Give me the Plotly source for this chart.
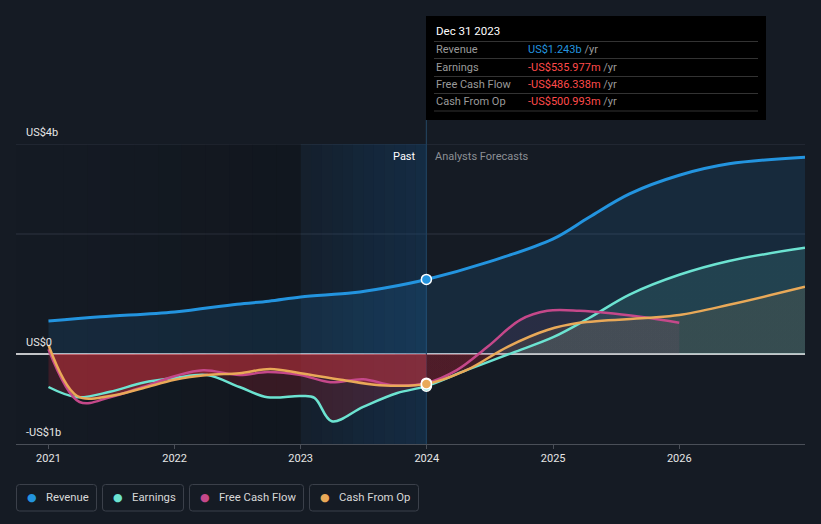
import plotly.graph_objects as go
import datetime as _dt

# ---------------- data (US$ billions) ----------------
rev_past_x = ["2021-01-01", "2021-06-01", "2022-01-01", "2022-07-01", "2022-10-01",
              "2023-01-01", "2023-06-01", "2023-09-01", "2023-12-31"]
rev_past_y = [0.55, 0.62, 0.70, 0.83, 0.88, 0.95, 1.02, 1.10, 1.243]
rev_fc_x = ["2023-12-31", "2024-07-01", "2025-01-01", "2025-04-15",
            "2025-08-10", "2026-01-01", "2026-05-25", "2026-12-31"]
rev_fc_y = [1.243, 1.54, 1.92, 2.28, 2.67, 2.98, 3.17, 3.28]

earn_past_x = ["2021-01-01", "2021-03-25", "2021-06-28", "2021-10-01", "2022-01-01",
               "2022-04-05", "2022-07-08", "2022-09-27", "2023-01-01", "2023-02-10",
               "2023-04-01", "2023-07-01", "2023-10-08", "2023-12-31"]
earn_past_y = [-0.55, -0.72, -0.63, -0.48, -0.40, -0.35, -0.55, -0.72, -0.70, -0.73,
               -1.12, -0.88, -0.65, -0.536]
earn_fc_x = ["2023-12-31", "2024-04-25", "2024-09-05", "2025-01-01", "2025-04-15",
             "2025-08-10", "2026-01-01", "2026-05-25", "2026-12-31"]
earn_fc_y = [-0.536, -0.27, 0.02, 0.28, 0.60, 0.99, 1.32, 1.55, 1.77]

fcf_past_x = ["2021-01-01", "2021-04-01", "2021-06-28", "2021-10-01", "2022-01-01",
              "2022-03-25", "2022-07-08", "2022-09-27", "2023-01-01", "2023-03-28",
              "2023-07-01", "2023-09-25", "2023-12-31"]
fcf_past_y = [0.08, -0.80, -0.72, -0.55, -0.37, -0.27, -0.35, -0.30, -0.35, -0.47,
              -0.42, -0.52, -0.486]
fcf_fc_x = ["2023-12-31", "2024-03-28", "2024-06-25", "2024-09-28", "2024-12-15",
            "2025-03-18", "2025-09-10", "2026-01-01"]
fcf_fc_y = [-0.486, -0.27, 0.12, 0.57, 0.72, 0.72, 0.62, 0.52]

cfo_past_x = ["2021-01-01", "2021-03-25", "2021-06-28", "2021-10-01", "2022-01-01",
              "2022-04-05", "2022-07-08", "2022-10-05", "2023-01-01", "2023-04-28",
              "2023-08-18", "2023-12-31"]
cfo_past_y = [0.15, -0.70, -0.70, -0.57, -0.43, -0.35, -0.32, -0.25, -0.32, -0.43,
              -0.52, -0.501]
cfo_fc_x = ["2023-12-31", "2024-04-25", "2024-08-22", "2024-12-15", "2025-03-18",
            "2025-09-25", "2026-01-01", "2026-05-25", "2026-12-31"]
cfo_fc_y = [-0.501, -0.27, 0.12, 0.40, 0.52, 0.60, 0.65, 0.82, 1.12]

year_ticks = ["2021-01-01", "2022-01-01", "2023-01-01", "2024-01-01", "2025-01-01", "2026-01-01"]
y_label_vals = [3.5, 0.0, -1.5]
y_label_text = ["US$4b", "US$0", "-US$1b"]
grid_vals = [3.5, 2.0]

series_names = ["Revenue", "Earnings", "Free Cash Flow", "Cash From Op"]
series_colors = ["#2394df", "#6ce3d1", "#c5488a", "#e9a958"]
tip_values = ["US$1.243b", "-US$535.977m", "-US$486.338m", "-US$500.993m"]
tip_colors = ["#2394df", "#ff4b4b", "#ff4b4b", "#ff4b4b"]

X0, X1 = "2020-09-29", "2026-12-31"
Y0, Y1 = -1.5, 3.5
BG = "#151b24"
FONT = "Roboto"

W, H = 821, 524
ML, MR, MT, MB = 16, 16, 144, 80


def xp(px):
    return (px - ML) / (W - ML - MR)


def yp(py):
    return (H - MB - py) / (H - MT - MB)


fig = go.Figure()

# past negatives red fill
fig.add_trace(go.Scatter(x=earn_past_x, y=earn_past_y, mode="lines", line=dict(width=0, shape="spline"),
                         fill="tozeroy", fillcolor="rgba(170,35,50,0.25)",
                         hoverinfo="skip", showlegend=False))
fig.add_trace(go.Scatter(x=cfo_past_x, y=cfo_past_y, mode="lines", line=dict(width=0, shape="spline"),
                         fill="tozeroy", fillcolor="rgba(200,50,60,0.50)",
                         hoverinfo="skip", showlegend=False))

# revenue fill
fig.add_trace(go.Scatter(x=rev_past_x + rev_fc_x[1:], y=rev_past_y + rev_fc_y[1:], mode="lines",
                         line=dict(width=0, shape="spline", smoothing=1.0), fill="tozeroy",
                         fillcolor="rgba(35,148,223,0.13)", hoverinfo="skip", showlegend=False))


def pos_neg_scale(color_rgb, lo, hi, a_pos):
    z = (0 - lo) / (hi - lo)
    return dict(type="vertical", start=lo, stop=hi,
                colorscale=[[0, "rgba(130,30,45,0.22)"], [max(z - 0.001, 0), "rgba(130,30,45,0.22)"],
                            [z, f"rgba({color_rgb},{a_pos})"], [1, f"rgba({color_rgb},{a_pos})"]])


fig.add_trace(go.Scatter(x=earn_fc_x, y=earn_fc_y, mode="lines", line=dict(width=0, shape="spline", smoothing=1.0),
                         fill="tozeroy", fillgradient=pos_neg_scale("108,227,209", -0.6, 1.8, 0.13),
                         hoverinfo="skip", showlegend=False))
fig.add_trace(go.Scatter(x=fcf_fc_x, y=fcf_fc_y, mode="lines", line=dict(width=0, shape="spline", smoothing=1.0),
                         fill="tozeroy", fillgradient=pos_neg_scale("197,72,138", -0.6, 1.8, 0.10),
                         hoverinfo="skip", showlegend=False))
fig.add_trace(go.Scatter(x=cfo_fc_x, y=cfo_fc_y, mode="lines", line=dict(width=0, shape="spline", smoothing=1.0),
                         fill="tozeroy", fillgradient=pos_neg_scale("233,169,88", -0.6, 1.8, 0.10),
                         hoverinfo="skip", showlegend=False))

# lines
lines = [
    (earn_past_x + earn_fc_x[1:], earn_past_y + earn_fc_y[1:], series_colors[1], 2.5),
    (fcf_past_x + fcf_fc_x[1:], fcf_past_y + fcf_fc_y[1:], series_colors[2], 2.5),
    (cfo_past_x + cfo_fc_x[1:], cfo_past_y + cfo_fc_y[1:], series_colors[3], 2.5),
    (rev_past_x + rev_fc_x[1:], rev_past_y + rev_fc_y[1:], series_colors[0], 3),
]
for lx, ly, c, w in lines:
    fig.add_trace(go.Scatter(x=lx, y=ly, mode="lines", line=dict(color=c, width=w, shape="spline", smoothing=1.0),
                             hoverinfo="skip", showlegend=False))

# markers at the hovered date
for vals, c in [(earn_past_y, series_colors[1]), (fcf_past_y, series_colors[2]),
                (cfo_past_y, series_colors[3]), (rev_past_y, series_colors[0])]:
    fig.add_trace(go.Scatter(x=["2023-12-31"], y=[vals[-1]], mode="markers",
                             marker=dict(color=c, size=10, line=dict(color="#ffffff", width=1.5)),
                             hoverinfo="skip", showlegend=False))

shapes = []
# dark gradient on the left (before last year)
n = 12
d0 = _dt.date(2020, 9, 29)
d1 = _dt.date(2023, 1, 1)
for i in range(n):
    a = d0 + (d1 - d0) * i / n
    b = d0 + (d1 - d0) * (i + 1) / n
    shapes.append(dict(type="rect", xref="x", yref="y", x0=str(a), x1=str(b), y0=Y0, y1=Y1,
                       fillcolor=f"rgba(5,8,12,{0.22 * ((i + 1) / n) ** 1.5:.3f})", line=dict(width=0), layer="below"))
# blue highlight of past year
d0 = _dt.date(2023, 1, 1)
d1 = _dt.date(2023, 12, 31)
for i in range(n):
    a = d0 + (d1 - d0) * i / n
    b = d0 + (d1 - d0) * (i + 1) / n
    shapes.append(dict(type="rect", xref="x", yref="y", x0=str(a), x1=str(b), y0=Y0, y1=Y1,
                       fillcolor=f"rgba(20,70,115,{0.10 + 0.30 * (i + 1) / n:.3f})", line=dict(width=0), layer="below"))
# gridlines
for g in grid_vals:
    shapes.append(dict(type="line", xref="paper", yref="y", x0=0, x1=1, y0=g, y1=g,
                       line=dict(color="#2e3440", width=1), layer="below"))
# zero line
shapes.append(dict(type="line", xref="paper", yref="y", x0=0, x1=1, y0=0, y1=0,
                   line=dict(color="#ffffff", width=1.3), layer="below"))
# vertical line at "now"
shapes.append(dict(type="line", xref="x", yref="paper", x0="2023-12-31", x1="2023-12-31", y0=0, y1=yp(120),
                   line=dict(color="#22405a", width=1.2), layer="below"))

# tooltip box
shapes.append(dict(type="rect", xref="paper", yref="paper", x0=xp(426), x1=xp(766), y0=yp(120), y1=yp(16),
                   fillcolor="#000000", line=dict(width=0), layer="above"))
for sy in [41.5, 58.5, 76.5, 93.5, 111]:
    shapes.append(dict(type="line", xref="paper", yref="paper", x0=xp(434), x1=xp(758), y0=yp(sy), y1=yp(sy),
                       line=dict(color="#333333", width=1), layer="above"))


# legend boxes
def rrect(x0, y0, x1, y1, r=3):
    X0_, X1_ = xp(x0), xp(x1)
    Y0_, Y1_ = yp(y1), yp(y0)
    rx = r / (W - ML - MR)
    ry = r / (H - MT - MB)
    return (f"M{X0_ + rx},{Y0_} L{X1_ - rx},{Y0_} Q{X1_},{Y0_} {X1_},{Y0_ + ry} "
            f"L{X1_},{Y1_ - ry} Q{X1_},{Y1_} {X1_ - rx},{Y1_} L{X0_ + rx},{Y1_} "
            f"Q{X0_},{Y1_} {X0_},{Y1_ - ry} L{X0_},{Y0_ + ry} Q{X0_},{Y0_} {X0_ + rx},{Y0_} Z")


legend_boxes = [(16, 97), (102, 184), (189, 304), (309, 419)]
legend_dots = [32, 118, 205, 325]
legend_text_x = [44, 130, 217, 337]
for (bx0, bx1) in legend_boxes:
    shapes.append(dict(type="path", xref="paper", yref="paper", path=rrect(bx0 + 0.5, 484.5, bx1 - 0.5, 511),
                       line=dict(color="#3b404a", width=1), fillcolor="rgba(0,0,0,0)"))

annotations = []
for v, t in zip(y_label_vals, y_label_text):
    annotations.append(dict(x=xp(24), xref="paper", y=v, yref="y", text=t, showarrow=False,
                            xanchor="left", yanchor="bottom", yshift=3,
                            font=dict(family=FONT, size=11, color="#e6e6e6")))

annotations.append(dict(x="2023-12-31", xref="x", y=yp(156), yref="paper", text="Past", showarrow=False,
                        xanchor="right", yanchor="middle", xshift=-8,
                        font=dict(family=FONT, size=11, color="#ffffff")))
annotations.append(dict(x="2023-12-31", xref="x", y=yp(156), yref="paper", text="Analysts Forecasts",
                        showarrow=False, xanchor="left", yanchor="middle", xshift=7,
                        font=dict(family=FONT, size=11, color="#8c8f95")))

# tooltip text
annotations.append(dict(x=xp(434), xref="paper", y=yp(31), yref="paper", text="Dec 31 2023", showarrow=False,
                        xanchor="left", yanchor="middle", font=dict(family=FONT, size=11.5, color="#ffffff")))
row_y = [49.5, 67, 85, 101.5]
for name, val, vc, ry in zip(series_names, tip_values, tip_colors, row_y):
    annotations.append(dict(x=xp(434), xref="paper", y=yp(ry), yref="paper", text=name, showarrow=False,
                            xanchor="left", yanchor="middle", font=dict(family=FONT, size=11, color="#9a9a9a")))
    annotations.append(dict(x=xp(526), xref="paper", y=yp(ry), yref="paper",
                            text=f"<span style='color:{vc}'>{val}</span> <span style='color:#9a9a9a'>/yr</span>",
                            showarrow=False, xanchor="left", yanchor="middle",
                            font=dict(family=FONT, size=11, color="#9a9a9a")))

# legend text
for name, c, dx, tx in zip(series_names, series_colors, legend_dots, legend_text_x):
    annotations.append(dict(x=xp(dx), xref="paper", y=yp(497.5), yref="paper", text="●", showarrow=False,
                            xanchor="center", yanchor="middle", font=dict(family="DejaVu Sans", size=11, color=c)))
    annotations.append(dict(x=xp(tx), xref="paper", y=yp(497.5), yref="paper", text=name, showarrow=False,
                            xanchor="left", yanchor="middle", font=dict(family=FONT, size=11.3, color="#d8d8d8")))

fig.update_layout(
    width=W, height=H,
    margin=dict(l=ML, r=MR, t=MT, b=MB),
    paper_bgcolor=BG, plot_bgcolor=BG,
    showlegend=False,
    shapes=shapes,
    annotations=annotations,
    xaxis=dict(range=[X0, X1], type="date", tickvals=year_ticks, tickformat="%Y", showgrid=False,
               zeroline=False, showline=True, linecolor="#4a4f58", linewidth=1,
               ticks="outside", ticklen=4, tickcolor="#4a4f58",
               tickfont=dict(family=FONT, size=11, color="#e6e6e6")),
    yaxis=dict(range=[Y0, Y1], showgrid=False, zeroline=False, showticklabels=False, showline=False),
)

fig.write_html("out.html", config={"displayModeBar": False},
               post_script="document.body.style.margin='0';document.body.style.background='" + BG + "';"
                           "document.body.style.overflow='hidden';")
